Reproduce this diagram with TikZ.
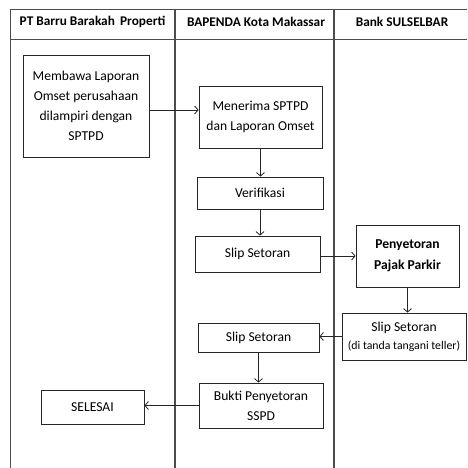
\documentclass[tikz,border=0pt]{standalone}
\usepackage{fontspec}
\setmainfont{Carlito}
\usetikzlibrary{arrows.meta}
\begin{document}
\begin{tikzpicture}[x=1pt,y=-1pt,
  frame/.style={draw=black!70,line width=1.2pt},
  box/.style={draw=black!85,line width=0.8pt,align=center,inner sep=0pt,font=\fontsize{13.6}{20}\selectfont},
  arr/.style={draw=black!85,line width=0.8pt,-{Straight Barb[length=3.5pt,width=8pt,line width=0.8pt]}},
  head/.style={font=\bfseries\fontsize{13.3}{16}\selectfont}]
\useasboundingbox (0,0) rectangle (467,468);
% frame
\draw[frame] (467,9.5) -- (10.5,9.5) -- (10.5,468);
\draw[frame] (10.5,39.5) -- (467,39.5);
\draw[frame] (175,9.5) -- (175,468);
\draw[frame] (334,9.5) -- (334,468);
% headers
\node[head] (h1) at (92.5,22) {PT Barru Barakah\, Properti};
\node[head] (h2) at (256,22) {BAPENDA Kota Makassar};
\node[head] (h3) at (402,22) {Bank SULSELBAR};
% boxes
\node[box,minimum width=126pt,minimum height=102pt] (b1) at (86,106) {Membawa Laporan\\Omset perusahaan\\dilampiri dengan\\SPTPD};
\node[box,minimum width=123pt,minimum height=62pt] (b2) at (260.5,117) {Menerima SPTPD\\dan Laporan Omset};
\node[box,minimum width=126pt,minimum height=32pt] (b3) at (260,193) {Verifikasi};
\node[box,minimum width=125pt,minimum height=36pt] (b4) at (257.5,254) {Slip Setoran};
\node[box,minimum width=103pt,minimum height=62pt,font=\bfseries\fontsize{13.6}{21}\selectfont] (b5) at (407.5,256) {Penyetoran\\Pajak Parkir};
\node[box,minimum width=124pt,minimum height=47pt] (b6) at (404,336.5) {Slip Setoran\\[-2pt]{\fontsize{11.8}{14}\selectfont(di tanda tangani teller)}};
\node[box,minimum width=121pt,minimum height=29pt] (b7) at (258.5,337.5) {Slip Setoran};
\node[box,minimum width=124pt,minimum height=45pt] (b8) at (261,405.5) {Bukti Penyetoran\\SSPD};
\node[box,minimum width=103pt,minimum height=34pt] (b9) at (92.5,407) {SELESAI};
% arrows
\draw[arr] ([yshift=-4pt]b1.east) -- ([yshift=-4pt]b1.east -| b2.west);
\draw[arr] (b2.south) -- (b2.south |- b3.north);
\draw[arr] (b3.south) -- (b3.south |- b4.north);
\draw[arr] ([yshift=-2pt]b4.east) -- ([yshift=-2pt]b4.east -| b5.west);
\draw[arr] (b5.south) -- (b5.south |- b6.north);
\draw[arr] (b6.west) -- (b6.west -| b7.east);
\draw[arr] (b7.south) -- (b7.south |- b8.north);
\draw[arr] (b8.west) -- (b8.west -| b9.east);
\end{tikzpicture}
\end{document}
